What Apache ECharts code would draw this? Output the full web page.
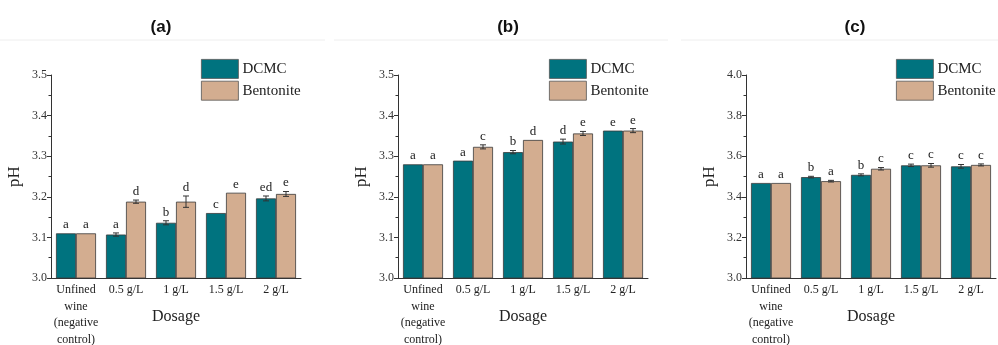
<!DOCTYPE html>
<html>
<head>
<meta charset="utf-8">
<script src="https://cdn.jsdelivr.net/npm/echarts@6/dist/echarts.min.js"></script>
<style>html,body{margin:0;padding:0;background:#fff}#c{width:998px;height:345px}</style>
</head>
<body>
<div id="c"></div>
<script>
var categories = ['Unfined\nwine\n(negative\ncontrol)', '0.5 g/L', '1 g/L', '1.5 g/L', '2 g/L'];
var panelTitles = ['(a)', '(b)', '(c)'];
var seriesNames = ['DCMC', 'Bentonite'];

var aDCMC = [3.110, 3.107, 3.136, 3.160, 3.196];
var aDCMCErr = [0, 0.004, 0.005, 0, 0.006];
var aDCMCLetters = ['a', 'a', 'b', 'c', 'ed'];
var aBent = [3.110, 3.188, 3.188, 3.210, 3.207];
var aBentErr = [0, 0.004, 0.014, 0, 0.006];
var aBentLetters = ['a', 'd', 'd', 'e', 'e'];

var bDCMC = [3.280, 3.289, 3.310, 3.336, 3.363];
var bDCMCErr = [0, 0, 0.004, 0.006, 0];
var bDCMCLetters = ['a', 'a', 'b', 'd', 'e'];
var bBent = [3.280, 3.323, 3.340, 3.356, 3.363];
var bBentErr = [0, 0.005, 0, 0.005, 0.005];
var bBentLetters = ['a', 'c', 'd', 'e', 'e'];

var cDCMC = [3.468, 3.497, 3.508, 3.555, 3.550];
var cDCMCErr = [0, 0.004, 0.005, 0.006, 0.009];
var cDCMCLetters = ['a', 'b', 'b', 'c', 'c'];
var cBent = [3.468, 3.477, 3.538, 3.555, 3.557];
var cBentErr = [0, 0.004, 0.006, 0.009, 0.005];
var cBentLetters = ['a', 'a', 'c', 'c', 'c'];

var yMin = [3.0, 3.0, 3.0];
var yMax = [3.5, 3.5, 4.0];
var yInterval = [0.1, 0.1, 0.2];

var SERIF = "'Liberation Serif', 'DejaVu Serif', serif";
var colDCMC = '#00737f';
var colBent = '#d3ad90';
var panels = [
  {d: aDCMC, de: aDCMCErr, dl: aDCMCLetters, b: aBent, be: aBentErr, bl: aBentLetters},
  {d: bDCMC, de: bDCMCErr, dl: bDCMCLetters, b: bBent, be: bBentErr, bl: bBentLetters},
  {d: cDCMC, de: cDCMCErr, dl: cDCMCLetters, b: cBent, be: cBentErr, bl: cBentLetters}
];
var gridLeft = [51, 398, 746];
var titleX = [156, 503, 850];
var legendLeft = [201, 549, 896];

function errRender(side, letters) {
  return function (params, api) {
    var i = api.value(0), m = api.value(1), e = api.value(2);
    var band = api.size([1, 0])[0];
    var x = api.coord([i, m])[0] + side * band * 0.2;
    var top = api.coord([i, m + e])[1];
    var bot = api.coord([i, m - e])[1];
    var ch = [];
    var ls = {stroke: '#333', lineWidth: 1};
    if (e > 0) {
      ch.push({type: 'line', shape: {x1: x, y1: top, x2: x, y2: bot}, style: ls});
      ch.push({type: 'line', shape: {x1: x - 3, y1: top, x2: x + 3, y2: top}, style: ls});
      ch.push({type: 'line', shape: {x1: x - 3, y1: bot, x2: x + 3, y2: bot}, style: ls});
    }
    ch.push({type: 'text', x: x, y: top - 2, style: {text: letters[params.dataIndex], textAlign: 'center', textVerticalAlign: 'bottom', font: '13px ' + SERIF, fill: '#222'}});
    return {type: 'group', children: ch};
  };
}

var grids = [], xAxes = [], yAxes = [], series = [], legends = [], titles = [];
for (var p = 0; p < 3; p++) {
  grids.push({left: gridLeft[p], width: 250, top: 75, height: 203, containLabel: false, outerBoundsMode: 'none'});
  xAxes.push({
    type: 'category', gridIndex: p, data: categories,
    name: 'Dosage', nameLocation: 'middle', nameGap: 31, nameMoveOverlap: false,
    nameTextStyle: {fontFamily: SERIF, fontSize: 16, color: '#222'},
    axisLine: {lineStyle: {color: '#333', width: 1}},
    axisTick: {show: false},
    axisLabel: {interval: 0, fontFamily: SERIF, fontSize: 12, color: '#222', lineHeight: 16.5, margin: 4}
  });
  yAxes.push({
    type: 'value', gridIndex: p, min: yMin[p], max: yMax[p], interval: yInterval[p],
    name: 'pH', nameLocation: 'middle', nameGap: 28, nameRotate: 90, nameMoveOverlap: false,
    nameTextStyle: {fontFamily: SERIF, fontSize: 17, color: '#222'},
    axisLine: {show: true, lineStyle: {color: '#333', width: 1}},
    axisTick: {show: true, length: 4, lineStyle: {color: '#333'}},
    minorTick: {show: true, splitNumber: 2, length: 2.5, lineStyle: {color: '#333'}},
    splitLine: {show: false},
    axisLabel: {fontFamily: SERIF, fontSize: 12, color: '#333', margin: 4, formatter: function (v) { return v.toFixed(1); }}
  });
  var P = panels[p];
  var barStyle = function (c) { return {color: c, borderColor: '#3a3a3a', borderWidth: 0.8}; };
  series.push({type: 'bar', name: seriesNames[0], xAxisIndex: p, yAxisIndex: p, data: P.d, barWidth: 20, barGap: '0%', itemStyle: barStyle(colDCMC), emphasis: {disabled: true}});
  series.push({type: 'bar', name: seriesNames[1], xAxisIndex: p, yAxisIndex: p, data: P.b, barWidth: 20, barGap: '0%', itemStyle: barStyle(colBent), emphasis: {disabled: true}});
  series.push({type: 'custom', xAxisIndex: p, yAxisIndex: p, z: 5, renderItem: errRender(-1, P.dl),
    data: P.d.map(function (v, i) { return [i, v, P.de[i]]; })});
  series.push({type: 'custom', xAxisIndex: p, yAxisIndex: p, z: 5, renderItem: errRender(1, P.bl),
    data: P.b.map(function (v, i) { return [i, v, P.be[i]]; })});
  legends.push({
    data: seriesNames, orient: 'vertical', left: legendLeft[p], top: 59,
    itemWidth: 37, itemHeight: 19, itemGap: 2, icon: 'rect',
    textStyle: {fontFamily: SERIF, fontSize: 15, color: '#222', padding: [0, 0, 0, -1]},
    itemStyle: {borderWidth: 0.8, borderColor: '#555'},
    padding: 0, selectedMode: false
  });
  titles.push({
    text: panelTitles[p], left: titleX[p], top: 14, textAlign: 'center',
    textStyle: {fontFamily: "'Liberation Sans', sans-serif", fontWeight: 'bold', fontSize: 17, color: '#111'}
  });
}

var chart = echarts.init(document.getElementById('c'), null, {renderer: 'canvas'});
chart.setOption({
  animation: false,
  backgroundColor: '#fff',
  title: titles,
  legend: legends,
  grid: grids,
  xAxis: xAxes,
  yAxis: yAxes,
  series: series,
  graphic: [
    {type: 'line', shape: {x1: 0, y1: 40, x2: 325, y2: 40}, style: {stroke: '#eeeeee', lineWidth: 1}},
    {type: 'line', shape: {x1: 334, y1: 40, x2: 668, y2: 40}, style: {stroke: '#eeeeee', lineWidth: 1}},
    {type: 'line', shape: {x1: 681, y1: 40, x2: 998, y2: 40}, style: {stroke: '#eeeeee', lineWidth: 1}}
  ]
});
</script>
</body>
</html>
